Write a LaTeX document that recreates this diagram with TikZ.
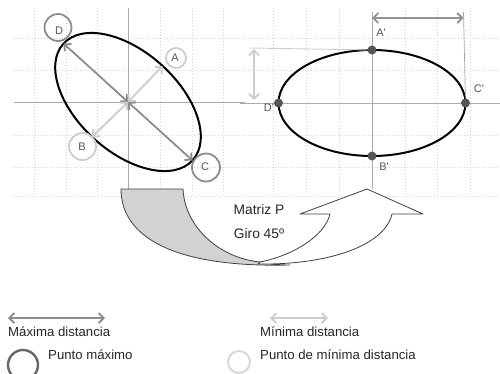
\documentclass[tikz,border=0pt]{standalone}
\usepackage{fontspec}
\setmainfont{Liberation Sans}
\usetikzlibrary{arrows.meta}
\definecolor{dkg}{HTML}{8C8C8C}
\definecolor{ltg}{HTML}{CDCDCD}
\definecolor{grd}{HTML}{D4D4D4}
\definecolor{axg}{HTML}{ABABAB}
\definecolor{lbl}{HTML}{555555}
\definecolor{ptg}{HTML}{555555}
\definecolor{fillg}{HTML}{D2D2D2}
\definecolor{shapeline}{HTML}{404040}
\tikzset{
  gridline/.style={grd, line width=0.7pt, dash pattern=on 1.2pt off 1.8pt},
  axisline/.style={axg, line width=0.9pt},
  ell/.style={black, line width=2pt},
  maxarrow/.style={dkg, line width=1.8pt, {Straight Barb[length=5pt,width=10pt]}-{Straight Barb[length=5pt,width=10pt]}},
  minarrow/.style={ltg, line width=1.8pt, {Straight Barb[length=5pt,width=10pt]}-{Straight Barb[length=5pt,width=10pt]}},
  maxring/.style={draw=dkg, line width=1.8pt, circle, inner sep=0pt},
  minring/.style={draw=ltg, line width=1.8pt, circle, inner sep=0pt},
  ptlabel/.style={text=lbl, font=\fontsize{11}{13}\selectfont, inner sep=0pt},
  dot/.style={fill=ptg, circle, inner sep=0pt, minimum size=9pt},
  legtext/.style={text=black!85, font=\fontsize{13.2}{15}\selectfont, inner sep=0pt, anchor=west},
  shapetext/.style={text=black!85, font=\fontsize{13.8}{16}\selectfont, inner sep=0pt},
  shapeedge/.style={draw=shapeline, line width=0.8pt, line join=round}
}
\begin{document}
\begin{tikzpicture}[x=1pt,y=-1pt]
\useasboundingbox (0,0) rectangle (500,373);
% grid
\foreach \gx in {34,66,97,160,192,223,273,306,339,405,437,470}
  \draw[gridline] (\gx,8) -- (\gx,196);
\foreach \gy in {38,70,135,167,196}
  \draw[gridline] (14,\gy) -- (500,\gy);
% axes
\draw[axisline] (14,102) -- (245,102);
\draw[axisline] (128,8) -- (128,189);
\draw[axisline] (240,103) -- (500,103);
\draw[axisline] (372,12) -- (372,189);

% ---------- left panel
\coordinate (O1) at (128,102);
\coordinate (Dt) at (63.5,43.5);
\coordinate (Ct) at (192.5,160.5);
\coordinate (At) at (162.5,66);
\coordinate (Bt) at (92,137);
\draw[ell, rotate around={-42:(O1)}] (O1) ellipse [x radius=87, y radius=50];
\draw[maxarrow] (O1) -- (Dt);
\draw[maxarrow] (O1) -- (Ct);
\draw[minarrow] (O1) -- (At);
\draw[minarrow] (O1) -- (Bt);
\node[maxring, minimum size=27pt] (Dr) at (58,27.5) {};
\node[maxring, minimum size=28pt] (Cr) at (206,167.5) {};
\node[minring, minimum size=20pt] (Ar) at (176,58) {};
\node[minring, minimum size=27pt] (Br) at (82.5,146.5) {};
\node[ptlabel] (Dl) at (59,31) {D};
\node[ptlabel] (Cl) at (205,167) {C};
\node[ptlabel] (Al) at (175,58) {A};
\node[ptlabel] (Bl) at (82,147) {B};

% ---------- right panel
\coordinate (O2) at (372,103);
\draw[ell] (O2) ellipse [x radius=93.5, y radius=53];
\node[dot] (Ap) at (372,50) {};
\node[dot] (Bp) at (372,156) {};
\node[dot] (Cp) at (465.5,103) {};
\node[dot] (Dp) at (278.5,103) {};
\node[ptlabel] (Apl) at (381,33) {A\textquotesingle};
\node[ptlabel] (Bpl) at (384,167) {B\textquotesingle};
\node[ptlabel] (Cpl) at (479,88.5) {C\textquotesingle};
\node[ptlabel] (Dpl) at (269,108) {D\textquotesingle};
% dimension lines
\coordinate (Ctop) at (463.5,12);
\coordinate (Ax0) at (372,18);
\coordinate (Ax1) at (463.5,18);
\draw[dkg!80, line width=0.7pt] (Ctop) -- (Cp);
\draw[maxarrow, dkg!95] (Ax0) -- (Ax1);
\coordinate (Aleft) at (250,48);
\coordinate (By0) at (254,49);
\coordinate (By1) at (254,100);
\draw[ltg, line width=0.9pt] (Aleft) -- (Ap);
\draw[minarrow] (By0) -- (By1);

% ---------- curved arrow shape
\coordinate (T1) at (121,189);
\coordinate (T2) at (183,189);
\coordinate (X) at (260,262);
\coordinate (G1) at (290,265);
\path[fill=fillg, shapeedge] (T1) -- (T2) .. controls (185,228) and (220,258) .. (X)
  .. controls (270,264) and (280,265) .. (G1)
  .. controls (170,268) and (121,235) .. (T1) -- cycle;
\coordinate (W0) at (258,264);
\coordinate (R1) at (392,214);
\coordinate (R2) at (423,214);
\coordinate (Tip) at (367,189);
\coordinate (L2) at (300,214);
\coordinate (L1) at (330,214);
\path[fill=white, shapeedge] (X) .. controls (295,255) and (325,235) .. (L1)
  -- (L2) -- (Tip) -- (R2) -- (R1)
  .. controls (385,245) and (330,265) .. (W0) -- (X) -- cycle;
\node[shapetext] (mp) at (259,210) {Matriz P};
\node[shapetext] (giro) at (259,234) {Giro 45º};

% ---------- legend
\coordinate (L1a) at (8,318);
\coordinate (L1b) at (105,318);
\draw[maxarrow] (L1a) -- (L1b);
\node[legtext] (maxd) at (8,332) {Máxima distancia};
\coordinate (L2a) at (270,318);
\coordinate (L2b) at (328,318);
\draw[minarrow] (L2a) -- (L2b);
\node[legtext] (mind) at (260,332) {Mínima distancia};
\node[draw=black!60, line width=2.4pt, circle, inner sep=0pt, minimum size=30pt] (legmax) at (23,365) {};
\node[legtext] (pmax) at (48,355) {Punto máximo};
\node[draw=ltg!80, line width=2pt, circle, inner sep=0pt, minimum size=22pt] (legmin) at (239,362) {};
\node[legtext] (pmin) at (260,355) {Punto de mínima distancia};
\end{tikzpicture}
\end{document}
